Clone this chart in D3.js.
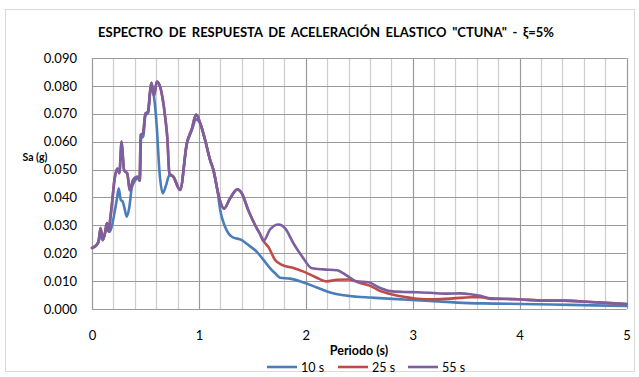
<!DOCTYPE html>
<html><head><meta charset="utf-8">
<script src="https://cdn.jsdelivr.net/npm/d3@7"></script>
<style>body{margin:0;background:#fff}svg{display:block}text{font-family:Lato,"Open Sans",sans-serif}</style>
</head><body>
<svg id="c" width="639" height="377"></svg>
<script>
const titleText = 'ESPECTRO DE RESPUESTA DE ACELERACIÓN ELASTICO "CTUNA" - ξ=5%';
const yLabel = "Sa (g)";
const xLabel = "Periodo (s)";
const seriesNames = ["10 s", "25 s", "55 s"];
const seriesColors = ["#4a7ebb", "#be4b48", "#7d5fa0"];
const xTicks = [0, 1, 2, 3, 4, 5];
const yTicks = [0, 0.01, 0.02, 0.03, 0.04, 0.05, 0.06, 0.07, 0.08, 0.09];

const s10 = [[0,0.0219],[0.03,0.0225],[0.06,0.024],[0.08,0.0265],[0.1,0.025],[0.12,0.027],[0.134,0.029],[0.15,0.0285],[0.165,0.0277],[0.184,0.0295],[0.215,0.0355],[0.235,0.040],[0.25,0.0433],[0.269,0.0391],[0.287,0.0385],[0.305,0.036],[0.325,0.0331],[0.35,0.0367],[0.371,0.0432],[0.387,0.045],[0.41,0.0465],[0.434,0.0474],[0.449,0.046],[0.459,0.061],[0.48,0.062],[0.5,0.0695],[0.524,0.0702],[0.543,0.077],[0.556,0.080],[0.58,0.0761],[0.606,0.0653],[0.63,0.0498],[0.662,0.0415],[0.693,0.0444],[0.724,0.048],[0.761,0.0474],[0.824,0.0427],[0.887,0.059],[0.933,0.064],[0.974,0.068],[1.011,0.0666],[1.058,0.0606],[1.105,0.0534],[1.136,0.0498],[1.173,0.0427],[1.199,0.0355],[1.245,0.0295],[1.308,0.0259],[1.401,0.0247],[1.464,0.0229],[1.542,0.0205],[1.604,0.0176],[1.667,0.0146],[1.713,0.0128],[1.76,0.0112],[1.854,0.0109],[1.979,0.0095],[2.104,0.0077],[2.228,0.0059],[2.353,0.0049],[2.478,0.0044],[2.603,0.0041],[2.728,0.0038],[2.915,0.0034],[3.165,0.0029],[3.415,0.0023],[3.664,0.002],[3.9,0.0019],[4.3,0.0016],[4.7,0.0013],[5.0,0.0011]];

const s25 = [[0,0.0219],[0.03,0.0225],[0.06,0.024],[0.08,0.029],[0.1,0.0247],[0.12,0.027],[0.14,0.0308],[0.155,0.0278],[0.17,0.032],[0.184,0.0367],[0.212,0.0468],[0.237,0.0504],[0.256,0.0487],[0.277,0.060],[0.29,0.054],[0.3,0.0498],[0.33,0.0486],[0.353,0.0426],[0.384,0.0462],[0.424,0.0474],[0.445,0.046],[0.456,0.0624],[0.477,0.063],[0.5,0.0701],[0.524,0.0707],[0.543,0.0779],[0.556,0.0811],[0.58,0.0765],[0.607,0.0816],[0.637,0.0797],[0.684,0.069],[0.705,0.0612],[0.724,0.0486],[0.761,0.0474],[0.824,0.0427],[0.887,0.0594],[0.933,0.0645],[0.974,0.0697],[1.011,0.0668],[1.058,0.0606],[1.105,0.0534],[1.136,0.0498],[1.173,0.0427],[1.2,0.0385],[1.236,0.036],[1.292,0.0397],[1.36,0.0429],[1.401,0.0415],[1.464,0.0352],[1.542,0.0289],[1.573,0.0268],[1.604,0.0244],[1.651,0.0222],[1.713,0.0176],[1.776,0.0158],[1.885,0.0147],[1.979,0.0134],[2.088,0.0115],[2.197,0.0099],[2.291,0.0105],[2.4,0.0106],[2.51,0.0093],[2.603,0.0083],[2.697,0.0064],[2.79,0.0054],[2.915,0.0044],[3.04,0.0037],[3.2,0.0035],[3.383,0.0038],[3.54,0.0042],[3.633,0.0042],[3.758,0.0036],[3.85,0.0036],[3.976,0.0035],[4.226,0.003],[4.413,0.003],[4.663,0.0025],[5.0,0.0018]];

const s55 = [[0,0.0219],[0.03,0.0225],[0.06,0.024],[0.08,0.029],[0.1,0.0247],[0.12,0.027],[0.14,0.0308],[0.155,0.0278],[0.17,0.032],[0.184,0.0367],[0.212,0.0468],[0.237,0.0504],[0.256,0.0487],[0.277,0.060],[0.29,0.054],[0.3,0.0498],[0.33,0.0486],[0.353,0.0426],[0.384,0.0462],[0.424,0.0474],[0.445,0.046],[0.456,0.0624],[0.477,0.063],[0.5,0.0701],[0.524,0.0707],[0.543,0.0779],[0.556,0.0811],[0.58,0.0765],[0.607,0.0816],[0.637,0.0797],[0.684,0.069],[0.705,0.0612],[0.724,0.0486],[0.761,0.0474],[0.824,0.0427],[0.887,0.0594],[0.933,0.0645],[0.974,0.0697],[1.011,0.0668],[1.058,0.0606],[1.105,0.0534],[1.136,0.0498],[1.173,0.0427],[1.2,0.0385],[1.236,0.036],[1.292,0.0397],[1.36,0.0429],[1.401,0.0415],[1.464,0.0352],[1.542,0.0289],[1.573,0.0268],[1.604,0.0244],[1.667,0.0286],[1.745,0.0303],[1.807,0.0289],[1.885,0.0235],[1.963,0.019],[2.057,0.0146],[2.166,0.0142],[2.291,0.0139],[2.385,0.012],[2.478,0.0099],[2.587,0.0096],[2.681,0.0078],[2.79,0.0064],[2.915,0.0061],[3.04,0.006],[3.165,0.0058],[3.321,0.0055],[3.446,0.0056],[3.539,0.0053],[3.633,0.0047],[3.727,0.0038],[3.85,0.0037],[3.976,0.0035],[4.226,0.003],[4.413,0.003],[4.663,0.0025],[5.0,0.0018]];

const allSeries = [s10, s25, s55];

const svg = d3.select("#c");
const L = 92, R = 626.5, T = 58, B = 309;
const x = d3.scaleLinear().domain([0, 5]).range([L, R]);
const y = d3.scaleLinear().domain([0, 0.09]).range([B, T]);

// outer chart border
svg.append("rect").attr("x", 5.5).attr("y", 9.5).attr("width", 629).attr("height", 362)
  .attr("fill", "#fff").attr("stroke", "#d9d9d9").attr("stroke-width", 1);

// minor vertical gridlines
const minorX = d3.range(0, 5.0001, 0.2).filter(v => Math.abs(v - Math.round(v)) > 1e-6);
svg.append("g").selectAll("line").data(minorX).join("line")
  .attr("x1", d => Math.round(x(d)) + 0.5).attr("x2", d => Math.round(x(d)) + 0.5)
  .attr("y1", T).attr("y2", B).attr("stroke", "#cfcfcf").attr("stroke-width", 1.3);

// major gridlines
svg.append("g").selectAll("line").data(xTicks).join("line")
  .attr("x1", d => Math.round(x(d)) + 0.5).attr("x2", d => Math.round(x(d)) + 0.5)
  .attr("y1", T).attr("y2", B).attr("stroke", "#9a9a9a").attr("stroke-width", 1.2);
svg.append("g").selectAll("line").data(yTicks).join("line")
  .attr("x1", L).attr("x2", R)
  .attr("y1", d => Math.round(y(d)) + 0.5).attr("y2", d => Math.round(y(d)) + 0.5)
  .attr("stroke", "#9a9a9a").attr("stroke-width", 1.2);

// axes labels
const yAxis = d3.axisLeft(y).tickValues(yTicks).tickFormat(d3.format(".3f")).tickSize(0).tickPadding(15);
const gy = svg.append("g").attr("transform", `translate(${L},0)`).call(yAxis);
gy.select(".domain").remove();
gy.selectAll("text").attr("font-size", 13).attr("fill", "#000").attr("font-family", "Lato");

const xAxis = d3.axisBottom(x).tickValues(xTicks).tickFormat(d3.format("d")).tickSize(0).tickPadding(22);
const gx = svg.append("g").attr("transform", `translate(0,${B})`).call(xAxis);
gx.select(".domain").remove();
gx.selectAll("text").attr("font-size", 13).attr("fill", "#000").attr("font-family", "Lato");

// lines
const line = d3.line().x(d => x(d[0])).y(d => y(d[1])).curve(d3.curveMonotoneX);
svg.append("g").selectAll("path").data(allSeries).join("path")
  .attr("d", line).attr("fill", "none")
  .attr("stroke", (d, i) => seriesColors[i]).attr("stroke-width", 2.6)
  .attr("stroke-linejoin", "round").attr("stroke-linecap", "round");

// title
svg.append("text").attr("x", 326).attr("y", 37).attr("text-anchor", "middle")
  .attr("font-size", 13).attr("font-weight", "bold").attr("word-spacing", 2.5).text(titleText);

svg.append("text").attr("x", 35).attr("y", 161).attr("text-anchor", "middle")
  .attr("font-size", 10.5).attr("font-weight", "bold").text(yLabel);

svg.append("text").attr("x", 359).attr("y", 355).attr("text-anchor", "middle")
  .attr("font-size", 12.5).attr("font-weight", "bold").text(xLabel);

// legend
const legX = [267, 338, 408];
const lg = svg.append("g").selectAll("g").data(seriesNames).join("g")
  .attr("transform", (d, i) => `translate(${legX[i]},367)`);
lg.append("line").attr("x1", 0).attr("x2", 30).attr("y1", 0).attr("y2", 0)
  .attr("stroke", (d, i) => seriesColors[i]).attr("stroke-width", 2.6);
lg.append("text").attr("x", 34).attr("y", 4.5).attr("font-size", 12.5).text(d => d);
</script>
</body></html>
